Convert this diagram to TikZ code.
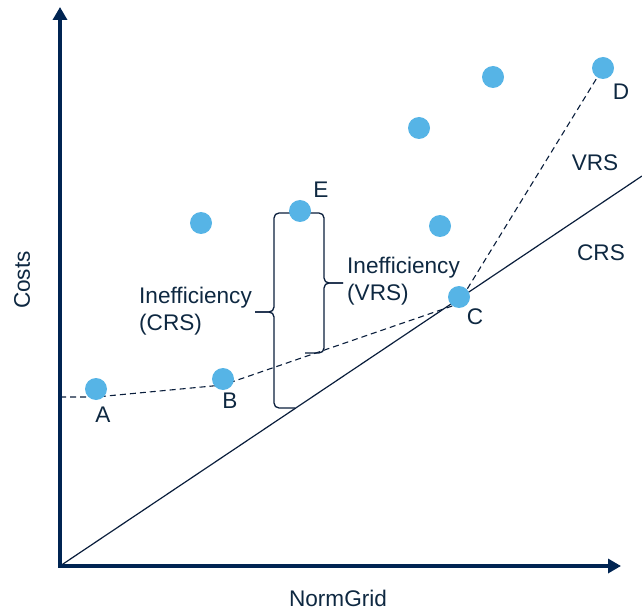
\documentclass[tikz,border=0pt]{standalone}
\usepackage{fontspec}
\setmainfont{Liberation Sans}
\usetikzlibrary{arrows.meta}
\definecolor{axisnavy}{RGB}{0,36,82}
\definecolor{linenavy}{RGB}{10,30,60}
\definecolor{dotblue}{RGB}{86,180,230}
\definecolor{labelnavy}{RGB}{14,40,65}
\tikzset{
  dmu/.style={circle, minimum size=22pt, inner sep=0pt, fill=dotblue},
  lbl/.style={inner sep=0pt, text=labelnavy, font=\fontsize{22.6}{27}\selectfont},
  axisline/.style={axisnavy, line width=3.5pt, -{Triangle[length=13pt,width=14pt]}},
  bracket/.style={linenavy, line width=1.3pt, rounded corners=5pt}
}
\begin{document}
\begin{tikzpicture}[x=1pt,y=-1pt]
\useasboundingbox (0,0) rectangle (642,612);
\coordinate (orig) at (60,566);
\coordinate (ytip) at (60,7);
\coordinate (xtip) at (621,566);
\coordinate (crsend) at (642,176);
% VRS frontier
\coordinate (vrs0) at (60,397);
\coordinate (vrsA) at (96,397);
\coordinate (vrsB) at (223,385);
\coordinate (vrsC) at (458,304);
\coordinate (vrsD) at (603,68);
\draw[linenavy, line width=1.2pt] (orig) -- (crsend);
\draw[linenavy, line width=1.1pt, dash pattern=on 6pt off 4pt] (vrs0) -- (vrsA) -- (vrsB) -- (vrsC) -- (vrsD);
% braces
\draw[bracket] (293,213) -- (274,213) -- (274,312) -- (255,312);
\draw[bracket] (295,408) -- (274,408) -- (274,312) -- (255,312);
\draw[bracket] (303,213) -- (324,213) -- (324,283) -- (343,283);
\draw[bracket] (305,353) -- (324,353) -- (324,283) -- (343,283);
% DMUs
\node[dmu] (dA) at (96,389){};
\node[dmu] (dB) at (223,379){};
\node[dmu] (dC) at (459,297){};
\node[dmu] (dD) at (603,68){};
\node[dmu] (dE) at (300,211){};
\node[dmu] (d6) at (201,223){};
\node[dmu] (d7) at (440,226){};
\node[dmu] (d8) at (419,128){};
\node[dmu] (d9) at (493,77){};
% labels
\node[lbl] (tA) at (103,415){A};
\node[lbl] (tB) at (230,401){B};
\node[lbl] (tC) at (475,317){C};
\node[lbl] (tD) at (621,92){D};
\node[lbl] (tE) at (321,190){E};
\node[lbl] (tvrs) at (595,163){VRS};
\node[lbl] (tcrs) at (601,253){CRS};
\node[lbl, align=left, anchor=west] (ineffvrs) at (347,281){Inefficiency\\(VRS)};
\node[lbl, align=left, anchor=west] (ineffcrs) at (139,311){Inefficiency\\(CRS)};
\node[lbl, rotate=90] (costs) at (22,280){Costs};
\node[lbl] (normgrid) at (338,598){NormGrid};
% axes
\draw[axisline] (orig) -- (ytip);
\draw[axisline] ([xshift=-1.75pt]orig) -- (xtip);
\end{tikzpicture}
\end{document}
